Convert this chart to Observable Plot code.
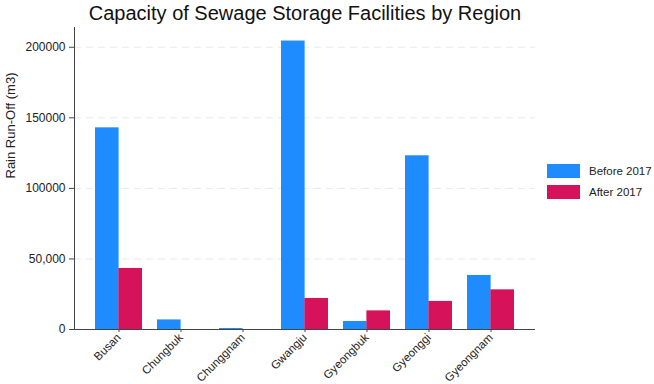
<!DOCTYPE html>
<html><head><meta charset="utf-8">
<script src="https://cdn.jsdelivr.net/npm/d3@7"></script>
<script src="https://cdn.jsdelivr.net/npm/@observablehq/plot@0.6"></script>
<style>
body{margin:0;background:#fff;font-family:"Liberation Sans",Arial,sans-serif;}
#wrap{position:relative;width:654px;height:384px;overflow:hidden;}
#title{height:24px;line-height:26px;font-size:20px;color:#111;text-align:center;width:610px;white-space:nowrap;}
#legend{position:absolute;left:547px;top:160px;font-size:11.5px;color:#222;white-space:nowrap;}
.item{display:flex;align-items:center;height:21px;}
.sw{width:33px;height:14px;margin-right:9px;flex:none;}
</style></head>
<body><div id="wrap"><div id="title">Capacity of Sewage Storage Facilities by Region</div><div id="chart"></div><div id="legend"></div></div>
<script>
const regions = ["Busan","Chungbuk","Chunggnam","Gwangju","Gyeongbuk","Gyeonggi","Gyeongnam"];
const before2017 = [142900, 6800, 700, 204400, 5700, 123100, 38300];
const after2017 = [43250, 0, 0, 22000, 13200, 19900, 28100];
const seriesNames = ["Before 2017","After 2017"];
const colors = ["#1e8bff","#d6125a"];
const yTicks = [0, 50000, 100000, 150000, 200000];
const yTickLabels = ["0","50,000","100000","150000","200000"];

const data = [];
regions.forEach((r,i)=>{
  data.push({region:r, series:seriesNames[0], value:before2017[i]});
  data.push({region:r, series:seriesNames[1], value:after2017[i]});
});

const W = 654, ML = 74, MR = 119;
const pIn = 0.25, pOut = 0.32;
const step = (W - ML - MR) / (regions.length - pIn + 2*pOut);
const half = step*(1-pIn)/2;

const chart = Plot.plot({
  width: W, height: 360,
  marginLeft: ML, marginRight: MR, marginTop: 3, marginBottom: 55,
  style: {fontFamily: '"Liberation Sans", Arial, sans-serif', fontSize: "12px", color:"#222", background:"#fff"},
  x: {domain: regions, paddingInner: pIn, paddingOuter: pOut, label: null},
  y: {domain: [0, 214000], label: null},
  color: {domain: seriesNames, range: colors},
  marks: [
    Plot.gridY(yTicks.slice(1), {stroke:"#d8d8d8", strokeOpacity:0.6, strokeDasharray:"7,5"}),
    Plot.barY(data.filter(d=>d.series===seriesNames[0]), {x:"region", y:"value", fill:"series", insetRight: half}),
    Plot.barY(data.filter(d=>d.series===seriesNames[1]), {x:"region", y:"value", fill:"series", insetLeft: half}),
    Plot.axisY(yTicks, {tickFormat: (d)=>yTickLabels[yTicks.indexOf(d)], tickSize:5, fontSize:12, label:null, stroke:"#444"}),
    Plot.axisX({tickRotate:-45, tickSize:3, tickPadding:3, fontSize:11.5, label:null, stroke:"#444"}),
    Plot.ruleY([0], {stroke:"#444"}),
    Plot.frame({anchor:"left", stroke:"#444"}),
    Plot.text(["Rain Run-Off (m3)"], {frameAnchor:"left", dx:-64, rotate:-90, fontSize:13, fill:"#222"})
  ]
});
document.getElementById("chart").appendChild(chart);

const leg = document.getElementById("legend");
seriesNames.forEach((s,i)=>{
  const it = document.createElement("div"); it.className="item";
  const sw = document.createElement("div"); sw.className="sw"; sw.style.background=colors[i];
  const t = document.createElement("span"); t.textContent=s;
  it.appendChild(sw); it.appendChild(t); leg.appendChild(it);
});
</script></body></html>
